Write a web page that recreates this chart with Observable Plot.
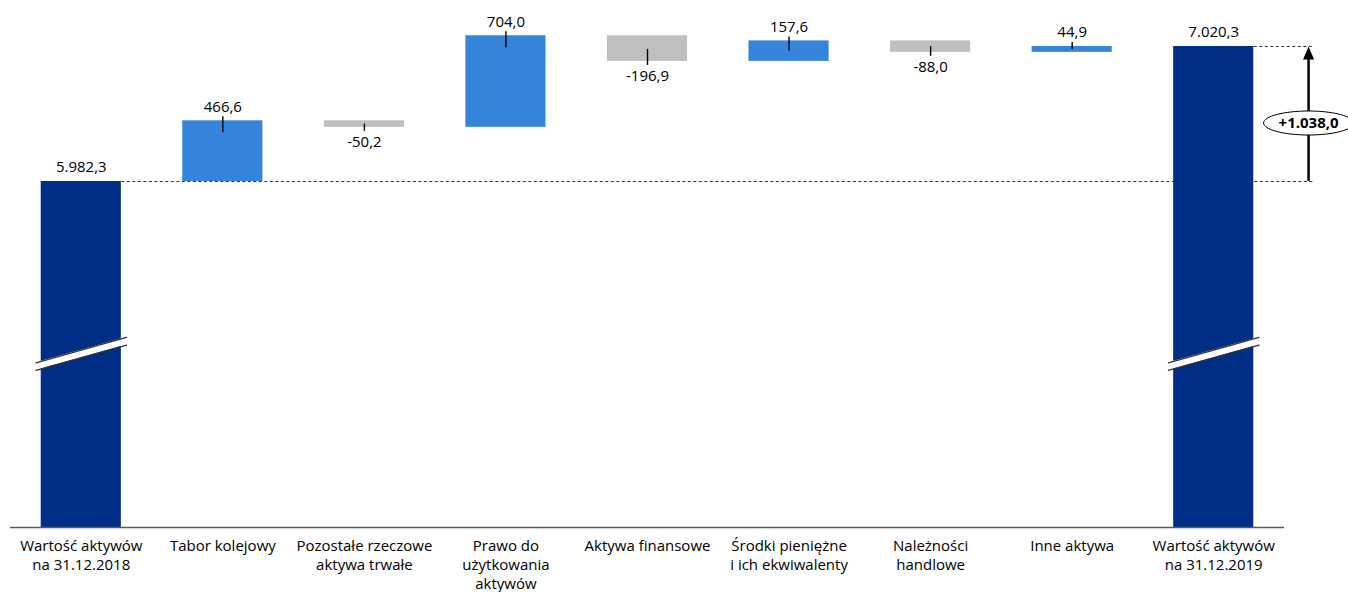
<!DOCTYPE html>
<html>
<head>
<meta charset="utf-8">
<script src="https://cdn.jsdelivr.net/npm/d3@7"></script>
<script src="https://cdn.jsdelivr.net/npm/@observablehq/plot@0.6"></script>
<style>
  html, body { margin: 0; padding: 0; background: #fff; }
  #chart svg { display: block; }
</style>
</head>
<body>
<div id="chart"></div>
<script>
// ---- data ----
const categories = [
  "Wartość aktywów\nna 31.12.2018",
  "Tabor kolejowy",
  "Pozostałe rzeczowe\naktywa trwałe",
  "Prawo do\nużytkowania\naktywów",
  "Aktywa finansowe",
  "Środki pieniężne\ni ich ekwiwalenty",
  "Należności\nhandlowe",
  "Inne aktywa",
  "Wartość aktywów\nna 31.12.2019"
];
const values = [5982.3, 466.6, -50.2, 704.0, -196.9, 157.6, -88.0, 44.9, 7020.3];
const kinds = ["total", "delta", "delta", "delta", "delta", "delta", "delta", "delta", "total"];
const changeLabel = "+1.038,0";

// ---- layout ----
const W = 1348, H = 592;
const marginLeft = 10, marginRight = 64, marginTop = 0, marginBottom = 65;
const yDomain = [3322, 7374];          // broken axis: visible value range
const pxPerUnit = (H - marginTop - marginBottom) / (yDomain[1] - yDomain[0]);
const px = p => p / pxPerUnit;         // pixels -> data units
const hw = 0.283;                       // half bar width (in category steps)

const fmt = d3.formatLocale({decimal: ",", thousands: ".", grouping: [3], currency: ["", ""], minus: "-"}).format(",.1f");

const colors = {total: "#002E86", pos: "#3685DC", neg: "#BFBFBF"};

let running = 0;
const rows = values.map((v, i) => {
  let y1, y2, type;
  if (kinds[i] === "total") { y1 = yDomain[0]; y2 = v; running = v; type = "total"; }
  else { y1 = running; y2 = running + v; running = y2; type = v >= 0 ? "pos" : "neg"; }
  const top = Math.max(y1, y2), bottom = Math.min(y1, y2), mid = (top + bottom) / 2;
  const positive = kinds[i] === "total" || v >= 0;
  return {
    i, cat: categories[i], v, y1, y2, top, bottom, type, positive,
    xa: i - hw, xb: i + hw,
    label: fmt(v),
    t1: positive ? top + px(4) : bottom - px(4),
    t2: positive ? Math.max(top - px(12), mid) : Math.min(bottom + px(12), mid)
  };
});
const totals = rows.filter(d => d.type === "total");
const deltas = rows.filter(d => d.type !== "total");
const first = rows[0], last = rows[rows.length - 1];
const arrowX = last.i + 0.67;

const dashed = [
  {x1: first.i + hw, x2: arrowX + 0.04, y: first.v},
  {x1: last.i + hw, x2: arrowX + 0.04, y: last.v}
];

// axis break band (white slanted stripe)
const breakLow = 4530, breakRise = 195, breakGap = 58;
const breakBand = totals.flatMap(d => [
  {i: d.i, x: d.i - 0.32, lo: breakLow, hi: breakLow + breakGap},
  {i: d.i, x: d.i + 0.32, lo: breakLow + breakRise, hi: breakLow + breakRise + breakGap}
]);

const ellipse = {
  draw(ctx) {
    const rx = 45, ry = 12, k = 0.5523;
    ctx.moveTo(rx, 0);
    ctx.bezierCurveTo(rx, ry * k, rx * k, ry, 0, ry);
    ctx.bezierCurveTo(-rx * k, ry, -rx, ry * k, -rx, 0);
    ctx.bezierCurveTo(-rx, -ry * k, -rx * k, -ry, 0, -ry);
    ctx.bezierCurveTo(rx * k, -ry, rx, -ry * k, rx, 0);
    ctx.closePath();
  }
};
const arrowHead = {
  draw(ctx) {
    ctx.moveTo(0, 0);
    ctx.lineTo(-5.5, 13);
    ctx.lineTo(5.5, 13);
    ctx.closePath();
  }
};

const font = "'Open Sans', 'Liberation Sans', sans-serif";

const chart = Plot.plot({
  width: W, height: H,
  marginLeft, marginRight, marginTop, marginBottom,
  style: {fontFamily: font, fontSize: "15px", background: "#fff", overflow: "visible"},
  x: {domain: [-0.5, categories.length - 0.5], axis: null},
  y: {domain: yDomain, axis: null},
  marks: [
    Plot.link(dashed, {x1: "x1", x2: "x2", y1: "y", y2: "y", stroke: "#333", strokeWidth: 1.2, strokeDasharray: "3,2.5"}),
    Plot.rect(rows, {x1: "xa", x2: "xb", y1: "y1", y2: "y2", fill: d => colors[d.type]}),
    Plot.areaY(breakBand, {x: "x", y1: "lo", y2: "hi", z: "i", fill: "#fff", curve: "linear"}),
    Plot.line(breakBand, {x: "x", y: "lo", z: "i", stroke: "#333", strokeWidth: 1.3}),
    Plot.line(breakBand, {x: "x", y: "hi", z: "i", stroke: "#333", strokeWidth: 1.3}),
    Plot.ruleX(deltas, {x: "i", y1: "t1", y2: "t2", stroke: "#000", strokeWidth: 1.4}),
    Plot.text(rows.filter(d => d.positive), {x: "i", y: "top", text: "label", dy: -14, fill: "#000", fontSize: 15}),
    Plot.text(rows.filter(d => !d.positive), {x: "i", y: "bottom", text: "label", dy: 15, fill: "#000", fontSize: 15}),
    Plot.ruleY([yDomain[0]], {stroke: "#595959", strokeWidth: 1.5}),
    Plot.text(rows, {x: "i", y: () => yDomain[0], text: "cat", dy: 10, lineAnchor: "top", lineHeight: 1.27, fill: "#000", fontSize: 15}),
    Plot.ruleX([{x: arrowX, y1: first.v, y2: last.v - px(10)}], {x: "x", y1: "y1", y2: "y2", stroke: "#000", strokeWidth: 2.5}),
    Plot.dot([{x: arrowX, y: last.v}], {x: "x", y: "y", symbol: arrowHead, fill: "#000", stroke: "none"}),
    Plot.dot([{x: arrowX, y: (first.v + last.v) / 2}], {x: "x", y: "y", dy: 9, symbol: ellipse, fill: "#fff", stroke: "#000", strokeWidth: 1}),
    Plot.text([{x: arrowX, y: (first.v + last.v) / 2, t: changeLabel}], {x: "x", y: "y", dy: 9, text: "t", fontWeight: "bold", fontSize: 15, fill: "#000"})
  ]
});
document.getElementById("chart").appendChild(chart);
</script>
</body>
</html>
